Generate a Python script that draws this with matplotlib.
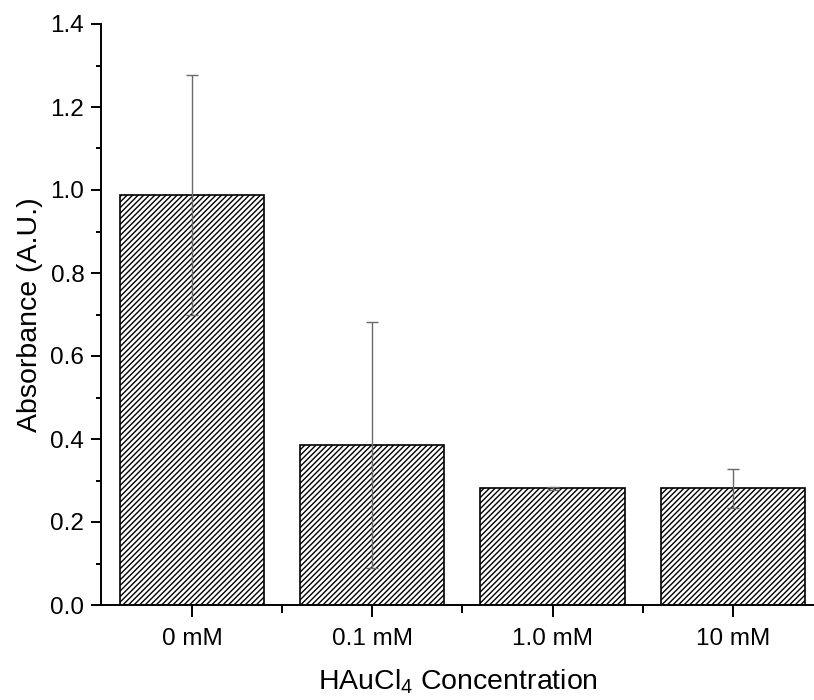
import matplotlib
matplotlib.use("Agg")
import matplotlib.pyplot as plt

categories = ["0 mM", "0.1 mM", "1.0 mM", "10 mM"]
values = [0.988, 0.386, 0.281, 0.281]
errors = [0.290, 0.297, 0.004, 0.047]

plt.rcParams['font.family'] = ['Liberation Sans', 'DejaVu Sans']
plt.rcParams['mathtext.fontset'] = 'custom'
plt.rcParams['mathtext.rm'] = 'Liberation Sans'
plt.rcParams['mathtext.it'] = 'Liberation Sans'
plt.rcParams['hatch.color'] = '#3a3a3a'
plt.rcParams['hatch.linewidth'] = 1.0

fig = plt.figure(figsize=(8.14, 7.0), dpi=100)
ax = fig.add_axes([101/814, 1 - 605/700, 1 - 101/814, (605 - 24)/700])

x = list(range(1, len(categories) + 1))
ax.bar(x, values, width=0.8, color='white', edgecolor='black', linewidth=1.2,
       hatch='//////', zorder=2)
ax.errorbar(x, values, yerr=errors, fmt='none', ecolor='#6a6a6a', elinewidth=1.0,
            capsize=4.3, capthick=1.0, zorder=3)

ax.set_xlim(0.495, 4.45)
ax.set_ylim(0, 1.4)
ax.set_xticks(x)
ax.set_xticklabels(categories)
ax.set_xticks([1.5, 2.5, 3.5], minor=True)
ax.set_yticks([0.0, 0.2, 0.4, 0.6, 0.8, 1.0, 1.2, 1.4])
ax.set_yticklabels(['0.0', '0.2', '0.4', '0.6', '0.8', '1.0', '1.2', '1.4'])
ax.set_yticks([0.1, 0.3, 0.5, 0.7, 0.9, 1.1, 1.3], minor=True)

for s in ['top', 'right']:
    ax.spines[s].set_visible(False)
for s in ['left', 'bottom']:
    ax.spines[s].set_linewidth(1.4)

ax.tick_params(axis='x', which='major', direction='out', length=8.5, width=1.4,
               labelsize=17.5, pad=8)
ax.tick_params(axis='x', which='minor', direction='out', length=5.5, width=1.4)
ax.tick_params(axis='y', which='major', direction='out', length=7, width=1.4,
               labelsize=17.5, pad=5)
ax.tick_params(axis='y', which='minor', direction='out', length=3.5, width=1.4)

ax.set_xlabel(r'HAuCl$_4$ Concentration', fontsize=20.5, labelpad=13)
ax.set_ylabel('Absorbance (A.U.)', fontsize=20.5, labelpad=5)

fig.savefig('out.png', dpi=100)
